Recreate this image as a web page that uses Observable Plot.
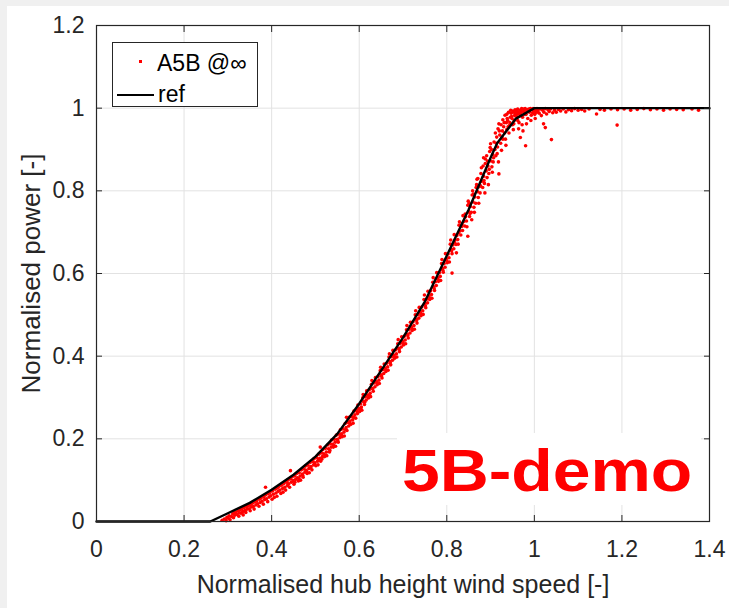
<!DOCTYPE html>
<html><head><meta charset="utf-8">
<script src="https://cdn.jsdelivr.net/npm/d3@7"></script>
<script src="https://cdn.jsdelivr.net/npm/@observablehq/plot@0.6"></script>
<style>
html,body{margin:0;padding:0;background:#f0f0f0;width:729px;height:608px;overflow:hidden;font-family:"Liberation Sans",Arial,sans-serif;}
#fig{position:absolute;left:7px;top:6px;width:722px;height:602px;background:#fff;}
#fig svg{position:absolute;left:0;top:0;}
#legend{position:absolute;left:105px;top:36px;width:144px;height:63px;border:1px solid #262626;background:#fff;color:#000;}
#legend .t{position:absolute;font-size:23px;line-height:23px;white-space:nowrap;}
#legend .dot{position:absolute;left:26px;top:17px;width:3px;height:3px;background:#ff0000;}
#legend .ln{position:absolute;left:4px;top:51px;width:37px;height:2px;background:#000;}
#demo{position:absolute;left:390px;top:427px;width:304px;height:72px;background:#fff;}
#demo span{position:absolute;left:5px;top:9px;font-weight:bold;font-size:59px;line-height:59px;color:#ff0000;white-space:nowrap;transform:scaleX(1.15);transform-origin:left center;}
</style></head>
<body>
<div id="fig"></div>
<script>
const xTicks = [0, 0.2, 0.4, 0.6, 0.8, 1, 1.2, 1.4];
const yTicks = [0, 0.2, 0.4, 0.6, 0.8, 1, 1.2];
const xTitle = "Normalised hub height wind speed [-]";
const yTitle = "Normalised power [-]";
const seriesScatter = "A5B @\u221e";
const seriesRef = "ref";
const annotation = "5B-demo";

// reference power curve
const refSpeed = [0, 0.26, 0.3, 0.35, 0.4, 0.45, 0.5, 0.55, 0.6, 0.65, 0.7, 0.75, 0.8, 0.85, 0.9, 0.915, 0.957, 1.0, 1.4];
const refPower = [0, 0, 0.02, 0.045, 0.077, 0.113, 0.157, 0.212, 0.285, 0.365, 0.445, 0.532, 0.643, 0.755, 0.88, 0.915, 0.974, 1.0, 1.0];

// measured scatter (speed, power)
const scatterPts = [
[0.287,0.003],[0.292,0.006],[0.296,0.002],[0.298,0.010],[0.301,0.008],[0.303,0.014],[0.305,0.004],
[0.308,0.012],[0.311,0.018],[0.313,0.009],[0.314,0.021],[0.316,0.015],
[0.318,0.022],[0.321,0.017],[0.323,0.026],[0.325,0.013],[0.326,0.021],
[0.328,0.028],[0.330,0.020],[0.332,0.031],[0.334,0.024],[0.335,0.016],
[0.337,0.034],[0.339,0.027],[0.341,0.022],[0.343,0.036],[0.344,0.030],
[0.347,0.038],[0.349,0.031],[0.351,0.026],[0.352,0.041],[0.354,0.035],
[0.356,0.044],[0.358,0.036],[0.360,0.030],[0.362,0.047],[0.364,0.040],
[0.366,0.050],[0.368,0.043],[0.371,0.037],[0.372,0.054],[0.374,0.046],
[0.376,0.057],[0.378,0.049],[0.381,0.042],[0.382,0.060],[0.384,0.053],[0.386,0.083],
[0.386,0.064],[0.388,0.055],[0.391,0.048],[0.392,0.067],[0.394,0.059],
[0.396,0.070],[0.398,0.062],[0.401,0.054],[0.402,0.074],[0.404,0.066],[0.406,0.058],
[0.408,0.078],[0.410,0.069],[0.412,0.061],[0.413,0.081],[0.415,0.073],
[0.417,0.085],[0.419,0.076],[0.421,0.068],[0.423,0.088],[0.425,0.080],[0.426,0.071],
[0.428,0.092],[0.430,0.083],[0.432,0.076],[0.434,0.095],[0.436,0.087],
[0.437,0.100],[0.439,0.091],[0.441,0.083],[0.443,0.123],[0.443,0.103],[0.445,0.095],
[0.447,0.108],[0.449,0.099],[0.451,0.090],[0.453,0.110],[0.455,0.102],
[0.457,0.116],[0.459,0.106],[0.461,0.098],[0.463,0.118],[0.465,0.110],[0.466,0.100],
[0.468,0.125],[0.470,0.115],[0.472,0.107],[0.474,0.127],[0.476,0.119],
[0.477,0.134],[0.479,0.124],[0.481,0.116],[0.483,0.136],[0.485,0.128],[0.486,0.118],
[0.488,0.143],[0.490,0.133],[0.492,0.125],[0.494,0.145],[0.496,0.137],
[0.497,0.152],[0.499,0.142],[0.501,0.135],[0.503,0.155],[0.505,0.146],[0.506,0.137],
[0.508,0.163],[0.510,0.153],[0.512,0.146],[0.514,0.166],[0.516,0.157],[0.511,0.180],
[0.517,0.174],[0.519,0.164],[0.521,0.157],[0.523,0.177],[0.525,0.168],[0.526,0.159],
[0.528,0.185],[0.530,0.176],[0.532,0.168],[0.534,0.188],[0.536,0.180],
[0.537,0.197],[0.539,0.187],[0.541,0.180],[0.543,0.199],[0.545,0.192],[0.546,0.182],
[0.548,0.209],[0.550,0.199],[0.552,0.192],[0.554,0.211],[0.556,0.203],
[0.557,0.222],[0.559,0.212],[0.561,0.205],[0.563,0.224],[0.565,0.216],[0.566,0.207],
[0.568,0.237],[0.570,0.227],[0.572,0.220],[0.574,0.240],[0.576,0.231],[0.571,0.252],
[0.577,0.252],[0.579,0.243],[0.581,0.235],[0.583,0.254],[0.585,0.246],[0.586,0.238],
[0.588,0.267],[0.590,0.258],[0.592,0.250],[0.594,0.269],[0.596,0.261],
[0.597,0.282],[0.599,0.273],[0.601,0.266],[0.603,0.285],[0.605,0.277],[0.606,0.269],
[0.608,0.299],[0.610,0.290],[0.612,0.283],[0.614,0.302],[0.616,0.294],[0.609,0.307],
[0.617,0.316],[0.619,0.306],[0.621,0.299],[0.623,0.319],[0.625,0.310],[0.626,0.302],
[0.628,0.332],[0.630,0.322],[0.632,0.315],[0.634,0.335],[0.636,0.326],[0.629,0.341],
[0.637,0.348],[0.639,0.338],[0.641,0.331],[0.643,0.351],[0.645,0.342],[0.646,0.334],
[0.648,0.365],[0.650,0.355],[0.652,0.347],[0.654,0.367],[0.656,0.358],[0.649,0.373],
[0.657,0.381],[0.659,0.371],[0.661,0.363],[0.663,0.383],[0.665,0.374],[0.666,0.366],
[0.668,0.398],[0.670,0.387],[0.672,0.379],[0.674,0.399],[0.676,0.390],[0.669,0.406],
[0.677,0.414],[0.679,0.403],[0.681,0.395],[0.683,0.415],[0.685,0.406],[0.686,0.398],
[0.688,0.430],[0.690,0.419],[0.692,0.411],[0.694,0.431],[0.696,0.422],[0.689,0.440],
[0.697,0.447],[0.699,0.436],[0.701,0.427],[0.703,0.448],[0.705,0.439],[0.706,0.430],
[0.708,0.464],[0.710,0.453],[0.712,0.444],[0.714,0.465],[0.716,0.456],[0.709,0.474],
[0.717,0.482],[0.719,0.471],[0.721,0.462],[0.723,0.483],[0.725,0.474],[0.726,0.465],
[0.728,0.500],[0.730,0.489],[0.732,0.480],[0.734,0.501],[0.736,0.492],[0.729,0.510],
[0.737,0.518],[0.739,0.507],[0.741,0.498],[0.743,0.519],[0.745,0.510],[0.746,0.501],
[0.748,0.537],[0.750,0.526],[0.752,0.517],[0.754,0.538],[0.756,0.529],[0.749,0.548],
[0.757,0.557],[0.759,0.546],[0.761,0.537],[0.763,0.558],[0.765,0.549],[0.766,0.540],
[0.768,0.579],[0.770,0.568],[0.772,0.559],[0.774,0.580],[0.776,0.571],[0.769,0.590],
[0.777,0.602],[0.779,0.590],[0.781,0.581],[0.783,0.602],[0.785,0.593],[0.786,0.583],
[0.788,0.624],[0.790,0.612],[0.792,0.603],[0.794,0.624],[0.796,0.615],[0.789,0.634],
[0.797,0.648],[0.799,0.636],[0.801,0.626],[0.803,0.647],[0.805,0.638],[0.806,0.628],[0.812,0.601],
[0.808,0.671],[0.810,0.658],[0.812,0.648],[0.814,0.669],[0.816,0.660],[0.809,0.681],
[0.817,0.694],[0.819,0.681],[0.821,0.670],[0.823,0.692],[0.825,0.682],[0.826,0.671],[0.822,0.650],
[0.828,0.717],[0.830,0.703],[0.832,0.693],[0.834,0.714],[0.836,0.704],[0.829,0.725],
[0.837,0.740],[0.839,0.726],[0.841,0.715],[0.843,0.737],[0.845,0.727],[0.846,0.713],[0.848,0.690],
[0.848,0.765],[0.850,0.750],[0.852,0.738],[0.854,0.762],[0.856,0.748],[0.849,0.775],[0.857,0.730],
[0.858,0.790],[0.860,0.773],[0.862,0.760],[0.864,0.785],[0.866,0.770],[0.859,0.800],[0.863,0.748],
[0.868,0.815],[0.870,0.798],[0.872,0.784],[0.874,0.810],[0.876,0.795],[0.869,0.828],[0.873,0.770],
[0.878,0.842],[0.880,0.823],[0.882,0.808],[0.884,0.880],[0.884,0.835],[0.886,0.818],[0.888,0.877],[0.879,0.856],[0.887,0.795],
[0.888,0.866],[0.890,0.848],[0.892,0.832],[0.894,0.860],[0.896,0.842],[0.891,0.885],[0.895,0.815],
[0.898,0.895],[0.900,0.914],[0.901,0.872],[0.903,0.858],[0.904,0.845],[0.905,0.888],[0.899,0.905],[0.906,0.870],
[0.908,0.918],[0.910,0.900],[0.912,0.885],[0.914,0.930],[0.916,0.906],[0.919,0.841],[0.918,0.870],[0.911,0.940],
[0.917,0.950],[0.919,0.962],[0.921,0.935],[0.923,0.915],[0.925,0.898],[0.927,0.945],[0.924,0.960],[0.928,0.925],
[0.928,0.972],[0.930,0.955],[0.932,0.940],[0.934,0.925],[0.936,0.965],[0.933,0.983],[0.937,0.948],[0.935,0.910],
[0.937,0.985],[0.939,0.970],[0.941,0.990],[0.943,0.958],[0.945,0.978],[0.942,0.940],[0.946,0.995],[0.944,0.965],
[0.947,0.988],[0.949,0.975],[0.951,0.993],[0.953,0.962],[0.955,0.982],[0.952,0.948],[0.956,0.996],[0.954,0.970],[0.958,0.990],
[0.957,0.985],[0.959,0.995],[0.961,0.978],[0.963,0.990],[0.965,0.965],[0.962,0.998],[0.966,0.985],[0.964,0.950],
[0.967,0.995],[0.969,0.988],[0.971,0.999],[0.973,0.978],[0.975,0.992],[0.968,0.929],[0.972,0.960],[0.976,0.998],[0.974,0.945],
[0.977,0.993],[0.979,0.999],[0.980,0.909],[0.981,0.985],[0.983,0.996],[0.985,0.975],[0.982,0.962],[0.986,0.992],
[0.987,0.998],[0.989,0.990],[0.991,0.999],[0.993,0.983],[0.995,0.996],[0.992,0.970],[0.996,0.989],
[0.997,0.999],[0.999,0.992],[1.001,0.985],[1.003,0.997],[1.005,0.990],[1.002,0.975],[1.006,0.999],
[1.008,0.994],[1.011,0.988],[1.013,0.998],[1.016,0.982],[1.019,0.995],[1.022,0.990],[1.025,0.999],[1.028,0.986],
[1.031,0.996],[1.034,0.992],[1.039,0.924],[1.037,0.998],[1.042,0.989],[1.046,0.995],[1.021,0.962],[1.025,0.953],
[1.050,0.990],[1.055,0.997],[1.060,0.993],[1.066,0.998],[1.072,0.991],[1.078,0.996],[1.085,0.994],[1.092,0.999],
[1.100,0.995],[1.108,0.997],[1.115,0.993],[1.125,0.998],[1.142,0.986],[1.150,0.997],[1.160,0.995],[1.175,0.998],
[1.189,0.959],[1.190,0.996],[1.205,0.998],[1.220,0.995],[1.235,0.997],[1.250,0.999],[1.265,0.996],[1.280,0.998],
[1.295,0.995],[1.310,0.998],[1.325,0.997],[1.340,0.996],[1.360,0.998],[1.375,0.995],
[0.453,0.095],[0.462,0.104],[0.471,0.112],[0.480,0.121],[0.489,0.130],[0.498,0.139],[0.507,0.149],[0.515,0.151],
[0.524,0.161],[0.533,0.172],[0.542,0.184],[0.551,0.195],[0.560,0.208],[0.569,0.222],[0.578,0.238],[0.587,0.252],[0.595,0.266],
[0.604,0.272],[0.613,0.289],[0.622,0.305],[0.631,0.321],[0.640,0.337],[0.651,0.352],[0.660,0.368],[0.671,0.384],
[0.680,0.400],[0.691,0.417],[0.700,0.433],[0.711,0.450],[0.720,0.468],[0.731,0.486],[0.740,0.504],[0.751,0.522],
[0.760,0.542],[0.771,0.564],[0.780,0.586],[0.791,0.608],[0.800,0.631],
[0.811,0.655],[0.818,0.675],[0.827,0.698],[0.835,0.720],[0.842,0.744],[0.851,0.770],[0.853,0.745],[0.861,0.792],
[0.867,0.808],[0.871,0.830],[0.877,0.812],[0.883,0.860],[0.885,0.825],[0.893,0.872],[0.897,0.852],[0.902,0.900],
[0.907,0.880],[0.913,0.915],[0.915,0.890],[0.920,0.945],[0.926,0.930],[0.931,0.965],[0.938,0.975],[0.940,0.955],
[0.948,0.980],[0.950,0.960],[0.953,0.990],[0.960,0.985],[0.962,0.970],[0.970,0.992],[0.978,0.985]
];

const refData = refSpeed.map((s, i) => ({speed: s, power: refPower[i]}));
const scatterData = scatterPts.map(([s, p]) => ({speed: s, power: p}));
const gridX = xTicks.filter(t => t > 0 && t < 1.4);
const gridY = yTicks.filter(t => t > 0 && t < 1.2);
const ink = "#262626";
const font = "Liberation Sans, Arial, sans-serif";
const fmt = d => String(d);

const chart = Plot.plot({
  width: 722, height: 602,
  marginLeft: 89, marginRight: 20, marginTop: 19, marginBottom: 87,
  style: {fontFamily: font, background: "transparent", color: ink},
  x: {domain: [0, 1.4]},
  y: {domain: [0, 1.2]},
  marks: [
    Plot.gridX(gridX, {stroke: "#e2e2e2", strokeOpacity: 1, strokeWidth: 1}),
    Plot.gridY(gridY, {stroke: "#e2e2e2", strokeOpacity: 1, strokeWidth: 1}),
    Plot.dot(scatterData, {x: "speed", y: "power", r: 1.8, fill: "#ff0000", stroke: "none"}),
    Plot.line(refData, {x: "speed", y: "power", stroke: "#000", strokeWidth: 2.4}),
    Plot.frame({stroke: ink, strokeWidth: 1.2}),
    Plot.axisX(xTicks, {anchor: "bottom", tickSize: -6, tickPadding: 25, tickFormat: fmt, fontSize: 23, fill: ink, stroke: ink, label: null}),
    Plot.axisX(xTicks, {anchor: "top", tickSize: -6, tickFormat: () => "", stroke: ink, label: null}),
    Plot.axisY(yTicks, {anchor: "left", tickSize: -6, tickPadding: 18, tickFormat: fmt, fontSize: 23, fill: ink, stroke: ink, label: null}),
    Plot.axisY(yTicks, {anchor: "right", tickSize: -6, tickFormat: () => "", stroke: ink, label: null}),
    Plot.axisX([], {anchor: "bottom", tickSize: 0, label: xTitle, labelAnchor: "center", labelOffset: 71, labelArrow: "none", fontSize: 25, fill: ink}),
    Plot.axisY([], {anchor: "left", tickSize: 0, label: yTitle, labelAnchor: "center", labelOffset: 75, labelArrow: "none", fontSize: 26, fill: ink})
  ]
});
const fig = document.getElementById("fig");
fig.appendChild(chart);

const legend = document.createElement("div");
legend.id = "legend";
legend.innerHTML = `<div class="dot"></div><div class="t" style="left:44px;top:9px">${seriesScatter}</div><div class="ln"></div><div class="t" style="left:45px;top:40px">${seriesRef}</div>`;
fig.appendChild(legend);

const demo = document.createElement("div");
demo.id = "demo";
demo.innerHTML = `<span>${annotation}</span>`;
fig.appendChild(demo);
</script>
</body></html>
